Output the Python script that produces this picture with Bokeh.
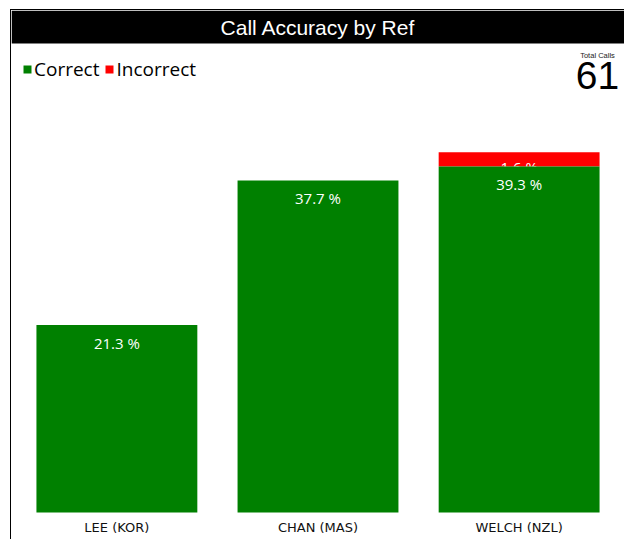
from bokeh.plotting import figure
from bokeh.models import (ColumnDataSource, FactorRange, Range1d, BoxAnnotation,
                          Label, Legend, LegendItem)
from bokeh.embed import file_html
from bokeh.resources import INLINE

# ---- data ----
refs = ["LEE (KOR)", "CHAN (MAS)", "WELCH (NZL)"]
correct_pct = [21.3, 37.7, 39.3]
incorrect_pct = [0.0, 0.0, 1.6]
total_calls = 61
title_text = "Call Accuracy by Ref"

GREEN = "#008000"
RED = "#ff0000"

FW, FH = 613, 529
Y_END = 57.0
PLOT_H = 502            # pixels from baseline to top of frame
BOTTOM_PX = FH - PLOT_H  # pixels below baseline for the category labels
Y_START = -BOTTOM_PX * Y_END / PLOT_H

p = figure(width=FW, height=FH, output_backend="svg", toolbar_location=None,
           x_range=FactorRange(factors=refs, range_padding=0.016),
           y_range=Range1d(Y_START, Y_END),
           min_border_left=0, min_border_right=0, min_border_top=0,
           min_border_bottom=0)
p.margin = (10, 0, 0, 11)
p.styles = {"outline": "1px solid black"}
p.outline_line_color = None
p.xgrid.visible = False
p.ygrid.visible = False
p.yaxis.visible = False
p.xaxis.visible = False

# stacked values
tops_inc = [c + i for c, i in zip(correct_pct, incorrect_pct)]
src_green = ColumnDataSource(dict(x=refs, top=correct_pct,
                                  lab=[f"{v:.1f} %" for v in correct_pct]))
inc_idx = [k for k, v in enumerate(incorrect_pct) if v > 0]
src_red_bar = ColumnDataSource(dict(x=refs, bottom=correct_pct, top=tops_inc))
src_red_lab = ColumnDataSource(dict(x=[refs[k] for k in inc_idx],
                                    top=[tops_inc[k] for k in inc_idx],
                                    lab=[f"{incorrect_pct[k]:.1f} %" for k in inc_idx]))

r_red = p.vbar(x="x", bottom="bottom", top="top", width=0.8, source=src_red_bar,
               fill_color=RED, line_color=None)
p.text(x="x", y="top", text="lab", source=src_red_lab, text_align="center",
       text_baseline="top", y_offset=5, text_color="white",
       text_font={"value": "Open Sans"}, text_font_size="15px")
r_green = p.vbar(x="x", top="top", width=0.8, source=src_green,
                 fill_color=GREEN, line_color=None)
p.text(x="x", y="top", text="lab", source=src_green, text_align="center",
       text_baseline="top", y_offset=8, text_color="white",
       text_font={"value": "Open Sans"}, text_font_size="15px")

# category labels (below the bars)
src_cat = ColumnDataSource(dict(x=refs, y=[0] * len(refs)))
p.text(x="x", y="y", text="x", source=src_cat, y_offset=15,
       text_align="center", text_baseline="middle",
       text_font={"value": "DejaVu Sans"}, text_font_size="13px",
       text_color="#111111")

# title bar
bar_h_px = 33
p.add_layout(BoxAnnotation(bottom=Y_END - bar_h_px * Y_END / PLOT_H, top=Y_END,
                           fill_color="black", fill_alpha=1.0, line_color=None))
p.add_layout(Label(x=FW / 2, y=FH - bar_h_px / 2, x_units="screen", y_units="screen",
                   text=title_text, text_color="white", text_align="center",
                   text_baseline="middle", text_font="Liberation Sans",
                   text_font_size="21px"))

# total calls
p.add_layout(Label(x=586, y=457 + BOTTOM_PX, x_units="screen", y_units="screen",
                   text="Total Calls", text_color="#222222", text_align="center",
                   text_baseline="alphabetic", text_font="Liberation Sans",
                   text_font_size="7.5px"))
p.add_layout(Label(x=586, y=437 + BOTTOM_PX, x_units="screen", y_units="screen",
                   text=str(total_calls), text_color="black", text_align="center",
                   text_baseline="alphabetic", text_font="Liberation Sans",
                   text_font_size="39px"))

legend = Legend(items=[LegendItem(label="Correct", renderers=[r_green]),
                       LegendItem(label="Incorrect", renderers=[r_red])],
                orientation="horizontal", location=(11, 430 + BOTTOM_PX),
                padding=0, margin=0, spacing=5, label_standoff=2,
                glyph_width=10, glyph_height=10,
                label_text_font="Open Sans", label_text_font_size="19px",
                label_text_color="black",
                border_line_color=None, background_fill_alpha=0)
p.add_layout(legend)

open("out.html", "w").write(file_html(p, INLINE))
